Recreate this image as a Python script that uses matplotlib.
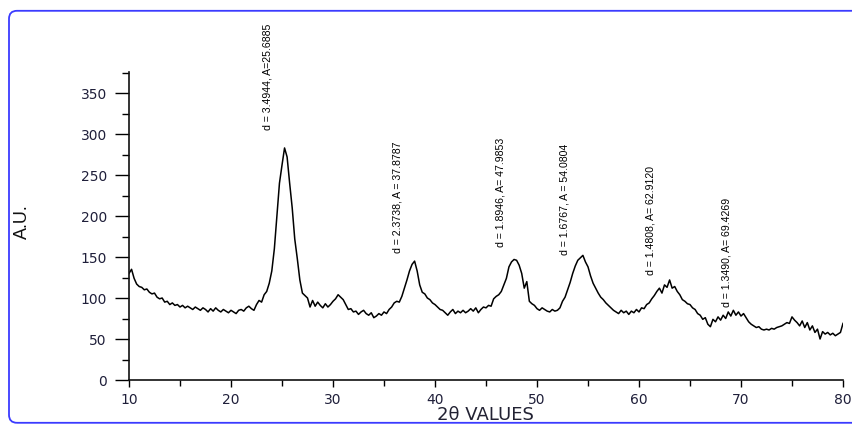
import numpy as np
import matplotlib
matplotlib.use("Agg")
import matplotlib.pyplot as plt
from matplotlib.patches import FancyBboxPatch
from matplotlib.ticker import MultipleLocator

# ---- data (2theta sampled every 0.25 deg from 10 to 80) ----
two_theta = np.arange(10.0, 80.001, 0.25)
intensity_10_20 = [130, 135, 124, 117, 114, 113, 110, 111, 107, 105, 106, 101, 99, 100, 95, 96,
                   92, 94, 91, 92, 89, 91, 88, 90, 88, 86, 89, 87, 85, 88, 86, 83,
                   87, 84, 88, 85, 83, 86, 84, 82]
intensity_20_30 = [85, 83, 81, 85, 86, 84, 88, 90, 87, 85, 92, 97, 95, 104, 108, 118,
                   133, 160, 200, 240, 262, 283, 272, 240, 210, 172, 148, 122, 106, 103, 100, 89,
                   97, 90, 95, 91, 88, 93, 89, 92]
intensity_30_40 = [96, 99, 104, 101, 98, 92, 86, 87, 83, 84, 80, 83, 85, 81, 79, 82,
                   76, 78, 81, 79, 83, 81, 86, 89, 94, 96, 95, 102, 112, 122, 133, 141,
                   145, 133, 116, 107, 105, 100, 98, 94]
intensity_40_50 = [92, 89, 86, 85, 82, 79, 83, 86, 81, 84, 82, 85, 82, 84, 87, 84,
                   88, 82, 86, 89, 88, 91, 90, 99, 102, 104, 108, 116, 124, 138, 144, 147,
                   146, 140, 130, 112, 120, 96, 93, 91]
intensity_50_60 = [87, 85, 88, 86, 84, 83, 86, 84, 85, 88, 96, 101, 110, 119, 130, 139,
                   146, 149, 152, 144, 138, 127, 118, 112, 106, 101, 98, 94, 91, 88, 85, 83,
                   81, 85, 82, 84, 80, 84, 82, 86]
intensity_60_70 = [83, 88, 87, 92, 94, 99, 103, 108, 112, 106, 116, 113, 122, 112, 114, 108,
                   104, 98, 96, 93, 92, 88, 86, 81, 79, 74, 76, 68, 65, 74, 71, 77,
                   73, 79, 75, 83, 78, 85, 79, 83]
intensity_70_80 = [78, 81, 76, 71, 68, 66, 64, 65, 62, 61, 62, 61, 63, 62, 64, 65,
                   66, 68, 70, 69, 77, 73, 70, 66, 72, 64, 70, 61, 66, 58, 62, 50,
                   59, 56, 58, 55, 57, 54, 56, 58, 69]
intensity = np.array(intensity_10_20 + intensity_20_30 + intensity_30_40 + intensity_40_50
                     + intensity_50_60 + intensity_60_70 + intensity_70_80, dtype=float)

peak_labels = ["d = 3.4944, A=25.6885", "d = 2.3738, A = 37.8787", "d = 1.8946, A= 47.9853",
               "d = 1.6767, A = 54.0804", "d = 1.4808, A= 62.9120", "d = 1.3490, A= 69.4269"]
label_x = [23.6, 36.3, 46.4, 52.7, 61.1, 68.6]
label_y = [305, 155, 162, 152, 128, 89]

x_ticks = [10, 20, 30, 40, 50, 60, 70, 80]
y_ticks = [0, 50, 100, 150, 200, 250, 300, 350]

# ---- figure ----
W, H = 852, 424
fig = plt.figure(figsize=(W / 100, H / 100), dpi=100)
fig.patch.set_facecolor("white")

# blue rounded frame
frame = FancyBboxPatch((0.09, 0.012), 8.9, 4.12,
                       boxstyle="round,pad=0,rounding_size=0.08",
                       transform=fig.dpi_scale_trans, facecolor="none",
                       edgecolor="#3b3bff", linewidth=1.3)
fig.patches.append(frame)

ax = fig.add_axes([129 / W, 1 - 380 / H, (843 - 129) / W, (380 - 71.7) / H])
ax.plot(two_theta, intensity, color="black", linewidth=1.1)

ax.set_xlim(10, 80)
ax.set_ylim(0, 376)
ax.set_xticks(x_ticks)
ax.set_yticks(y_ticks)
ax.xaxis.set_minor_locator(MultipleLocator(5))
ax.yaxis.set_minor_locator(MultipleLocator(25))

for s in ["top", "right"]:
    ax.spines[s].set_visible(False)
for s in ["left", "bottom"]:
    ax.spines[s].set_linewidth(1.2)
    ax.spines[s].set_color("#111111")

tick_col = "#1f1f3a"
ax.tick_params(axis="y", which="major", length=10, width=1.0, pad=6,
               labelsize=10, labelcolor=tick_col, direction="out")
ax.tick_params(axis="y", which="minor", length=5, width=1.0, direction="out")
ax.tick_params(axis="x", which="major", length=5, width=1.0, pad=4,
               labelsize=10, labelcolor=tick_col, direction="out")
ax.tick_params(axis="x", which="minor", length=4, width=1.0, direction="out")
for lab in ax.get_xticklabels() + ax.get_yticklabels():
    lab.set_family("DejaVu Sans")

narrow = ["Liberation Sans", "DejaVu Sans"]
for txt, xx, yy in zip(peak_labels, label_x, label_y):
    ax.text(xx, yy, txt, rotation=90, ha="center", va="bottom",
            fontsize=7.6, family=narrow, color="black", clip_on=False)

fig.text(22 / W, 1 - 222 / H, "A.U.", rotation=90, ha="center", va="center",
         fontsize=13, family=narrow, color="#111111")
fig.text(485 / W, 1 - 415 / H, "2θ VALUES", ha="center", va="center",
         fontsize=13, family="DejaVu Sans", color="#222233")

fig.savefig("out.png", dpi=100)
